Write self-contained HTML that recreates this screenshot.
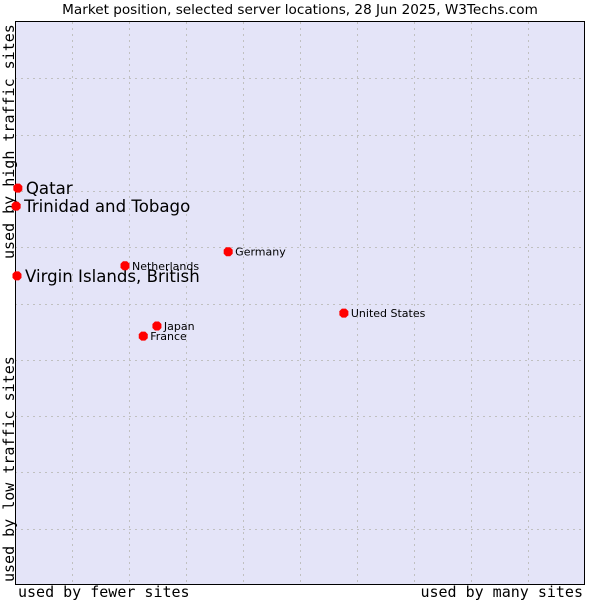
<!DOCTYPE html>
<html><head><meta charset="utf-8"><style>
body{margin:0;background:#fff}
svg text{font-family:"DejaVu Sans",sans-serif;fill:#000}
.mono{font-family:"DejaVu Sans Mono","Liberation Mono",monospace}
</style></head><body>
<svg id="chart" width="600" height="600" xmlns="http://www.w3.org/2000/svg">
<text x="300" y="14" font-size="13.6" text-anchor="middle">Market position, selected server locations, 28 Jun 2025, W3Techs.com</text>
<rect x="15.5" y="21.5" width="569" height="563" fill="#e4e4f8" stroke="none"/>
<g id="grid"></g>
<path d="M15.5 21.5 H584.5 V584.5 H15.5 Z" fill="none" stroke="#000" stroke-width="1"/>
<text class="mono" x="18" y="597" font-size="15">used by fewer sites</text>
<text class="mono" x="583" y="597" font-size="15" text-anchor="end">used by many sites</text>
<text class="mono" transform="translate(14,582) rotate(-90)" font-size="15">used by low traffic sites</text>
<text class="mono" transform="translate(14,259) rotate(-90)" font-size="15">used by high traffic sites</text>
<g id="points"></g>
</svg>
<script>
const names=["Qatar","Trinidad and Tobago","Virgin Islands, British","Netherlands","Germany","United States","Japan","France"];
const xVals=[0.5,0.2,0.35,19.3,37.4,57.7,24.9,22.5];
const yVals=[70.5,67.3,54.9,56.7,59.2,48.3,46.0,44.2];
const bigLabel=[true,true,true,false,false,false,false,false];
const NS="http://www.w3.org/2000/svg";
const X0=15,X1=585,Y0=585,Y1=22;
function sx(v){return X0+v/100*(X1-X0);}
function sy(v){return Y0-v/100*(Y0-Y1);}
const grid=document.getElementById('grid');
for(let i=1;i<10;i++){
  const l=document.createElementNS(NS,'line');
  
  
  const x=Math.round(sx(i*10))+0.5;
  l.setAttribute('x1',x);l.setAttribute('x2',x);l.setAttribute('y1',Y1);l.setAttribute('y2',Y0);
  l.setAttribute('stroke','#c0c0c0');l.setAttribute('stroke-dasharray','2,4');
  grid.appendChild(l);
  const h=document.createElementNS(NS,'line');
  
  
  const y=Math.round(sy(i*10))+0.5;
  h.setAttribute('x1',X0);h.setAttribute('x2',X1);h.setAttribute('y1',y);h.setAttribute('y2',y);
  h.setAttribute('stroke','#c0c0c0');h.setAttribute('stroke-dasharray','2,4');
  grid.appendChild(h);
}
const pts=document.getElementById('points');
names.forEach((n,i)=>{
  const x=sx(xVals[i]),y=sy(yVals[i]);
  const p=document.createElementNS(NS,'path');
  
  
  p.setAttribute('d',`M${x-4.5} ${y-2}L${x-2} ${y-4.5}H${x+2}L${x+4.5} ${y-2}V${y+2}L${x+2} ${y+4.5}H${x-2}L${x-4.5} ${y+2}Z`);
  p.setAttribute('fill','#ff0000');
  pts.appendChild(p);
  const t=document.createElementNS(NS,'text');
  
  
  t.setAttribute('x',x+(bigLabel[i]?8:7));
  t.setAttribute('y',y+(bigLabel[i]?6:4));
  t.setAttribute('font-size',bigLabel[i]?16.6:11);
  t.textContent=n;
  pts.appendChild(t);
});
</script>
</body></html>
